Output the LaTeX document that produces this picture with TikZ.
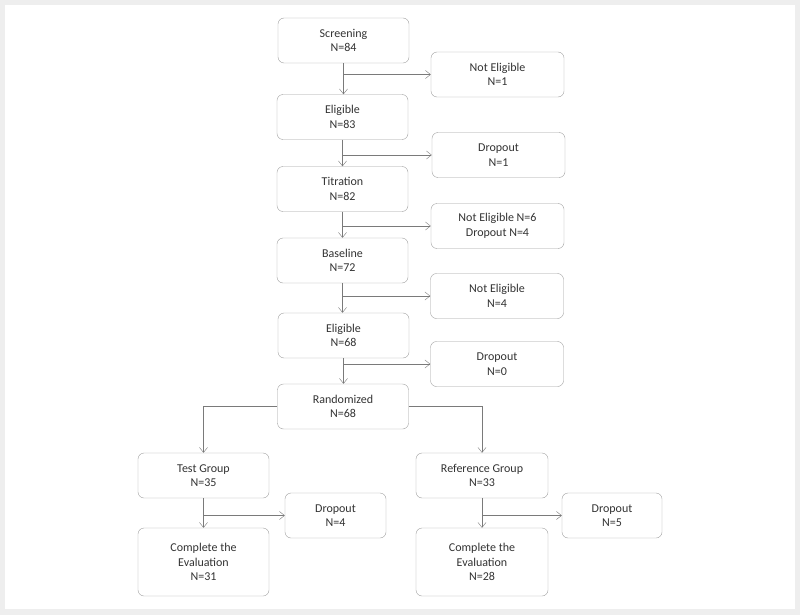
\documentclass[tikz,border=0pt]{standalone}
\usepackage{fontspec}
\setmainfont{Carlito}
\usetikzlibrary{arrows.meta}
\definecolor{boxline}{HTML}{A0A0A0}
\definecolor{linkline}{HTML}{7A7A7A}
\definecolor{txt}{HTML}{333333}
\definecolor{frame}{HTML}{EEEEEE}
\begin{document}
\begin{tikzpicture}[x=1pt,y=-1pt,
    stage/.style={draw=boxline, rounded corners=6pt, align=center, text=txt,
        minimum width=131pt, minimum height=45pt, inner sep=2pt,
        font=\fontsize{12}{14.5}\selectfont},
    >={Straight Barb[length=5pt,width=8pt]}]
    % frame
    \fill[frame] (0,0) rectangle (800,615);
    \fill[white] (5,5) rectangle (795,609);
    \useasboundingbox (0,0) rectangle (800,615);

    % main column
    \node[stage] (scr) at (343.5,40.5) {Screening\\N=84};
    \node[stage] (el1) at (342.5,117) {Eligible\\N=83};
    \node[stage] (tit) at (342.5,189) {Titration\\N=82};
    \node[stage] (bas) at (342.5,260.5) {Baseline\\N=72};
    \node[stage] (el2) at (343.5,335.5) {Eligible\\N=68};
    \node[stage] (ran) at (343,406.5) {Randomized\\N=68};

    % side column
    \node[stage, minimum width=133pt] (ne1) at (497.5,74.5) {Not Eligible\\N=1};
    \node[stage, minimum width=133pt] (do1) at (498.5,155) {Dropout\\N=1};
    \node[stage, minimum width=133pt] (ne2) at (497.5,226) {Not Eligible N=6\\Dropout N=4};
    \node[stage, minimum width=133pt] (ne3) at (497,296) {Not Eligible\\N=4};
    \node[stage, minimum width=133pt] (do2) at (497,364) {Dropout\\N=0};

    % groups
    \node[stage] (tg) at (203.5,475.5) {Test Group\\N=35};
    \node[stage, minimum width=101pt] (do3) at (335.5,515.5) {Dropout\\N=4};
    \node[stage, minimum height=68pt] (ct) at (203.5,562) {Complete the\\Evaluation\\N=31};
    \node[stage, minimum width=132pt] (rg) at (482,475.5) {Reference Group\\N=33};
    \node[stage, minimum width=100pt] (do4) at (612,515.5) {Dropout\\N=5};
    \node[stage, minimum width=132pt, minimum height=68pt] (cr) at (482,562) {Complete the\\Evaluation\\N=28};

    % connectors
    \begin{scope}[draw=linkline]
        \draw[->] (scr.south) -- (scr.south |- el1.north);
        \draw[->] (scr.south |- ne1.west) -- (ne1.west);
        \draw[->] (el1.south) -- (el1.south |- tit.north);
        \draw[->] (el1.south |- do1.west) -- (do1.west);
        \draw[->] (tit.south) -- (tit.south |- bas.north);
        \draw[->] (tit.south |- ne2.west) -- (ne2.west);
        \draw[->] (bas.south) -- (bas.south |- el2.north);
        \draw[->] (bas.south |- ne3.west) -- (ne3.west);
        \draw[->] (el2.south) -- (el2.south |- ran.north);
        \draw[->] (el2.south |- do2.west) -- (do2.west);
        \draw[->] (ran.west) -| (tg.north);
        \draw[->] (ran.east) -| (rg.north);
        \draw[->] (tg.south) -- (ct.north);
        \draw[->] (tg.south |- do3.west) -- (do3.west);
        \draw[->] (rg.south) -- (cr.north);
        \draw[->] (rg.south |- do4.west) -- (do4.west);
    \end{scope}
\end{tikzpicture}
\end{document}
